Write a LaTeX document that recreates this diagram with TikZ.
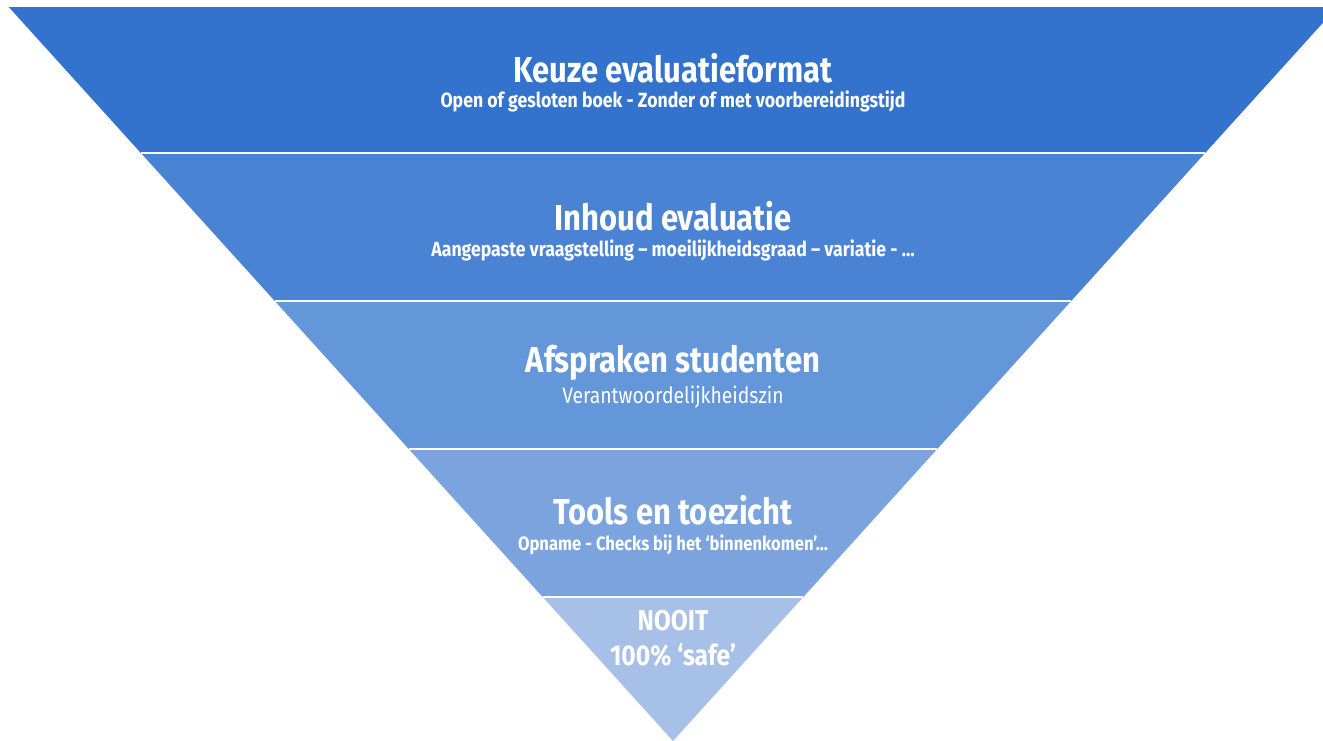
\documentclass[tikz,border=0pt]{standalone}
\usepackage{fontspec}
\setmainfont[FakeStretch=0.86]{Fira Sans}

\definecolor{bandA}{RGB}{52,115,205}
\definecolor{bandB}{RGB}{74,131,212}
\definecolor{bandC}{RGB}{99,151,218}
\definecolor{bandD}{RGB}{123,164,222}
\definecolor{bandE}{RGB}{166,192,232}

\tikzset{
  title/.style={text=white, font=\bfseries\fontsize{20.5}{22}\selectfont, inner sep=0pt},
  subtitle/.style={text=white, font=\bfseries\fontsize{11.7}{13}\selectfont, inner sep=0pt},
  tip/.style={text=white, font=\bfseries\fontsize{16.3}{18}\selectfont, inner sep=0pt, align=center}
}

\begin{document}
\begin{tikzpicture}[x=0.02cm, y=-0.02cm]

% canvas of 1323 x 741 px, y runs downwards
\useasboundingbox (0,0) rectangle (1323,741);
\clip (0,0) rectangle (1323,741);

% the bands of the funnel: apex at (673,741), half slope 0.905
\foreach \ytop/\ybot/\col in {7/153/bandA, 153/301/bandB, 301/449/bandC, 449/597/bandD, 597/741/bandE}
{
  \pgfmathsetmacro{\wtop}{0.905*(741-\ytop)}
  \pgfmathsetmacro{\wbot}{0.905*(741-\ybot)}
  \fill [\col] (673-\wtop,\ytop) -- (673+\wtop,\ytop) -- (673+\wbot,\ybot) -- (673-\wbot,\ybot) -- cycle;
}

% white separators
\foreach \y in {153, 301, 449, 597}
{
  \pgfmathsetmacro{\w}{0.905*(741-\y)}
  \draw [white, line width=0.9pt] (673-\w,\y) -- (673+\w,\y);
}

% labels
\node [title] (keuze) at (673,68) {Keuze evaluatieformat};
\node [subtitle] (keuzesub) at (673,101) {Open of gesloten boek - Zonder of met voorbereidingstijd};

\node [title] (inhoud) at (673,216) {Inhoud evaluatie};
\node [subtitle] (inhoudsub) at (673,250) {Aangepaste vraagstelling – moeilijkheidsgraad – variatie - …};

\node [title] (afspraken) at (673,363) {Afspraken studenten};
\node [subtitle, font=\fontsize{12.8}{14}\selectfont] (afsprakensub) at (673,397) {Verantwoordelijkheidszin};

\node [title] (tools) at (673,510) {Tools en toezicht};
\node [subtitle, font=\bfseries\fontsize{11}{12}\selectfont] (toolssub) at (673,545) {Opname - Checks bij het ‘binnenkomen’…};

\node [tip] (nooit) at (673,621) {NOOIT};
\node [tip] (safe) at (673,655) {100\% ‘safe’};

\end{tikzpicture}
\end{document}
